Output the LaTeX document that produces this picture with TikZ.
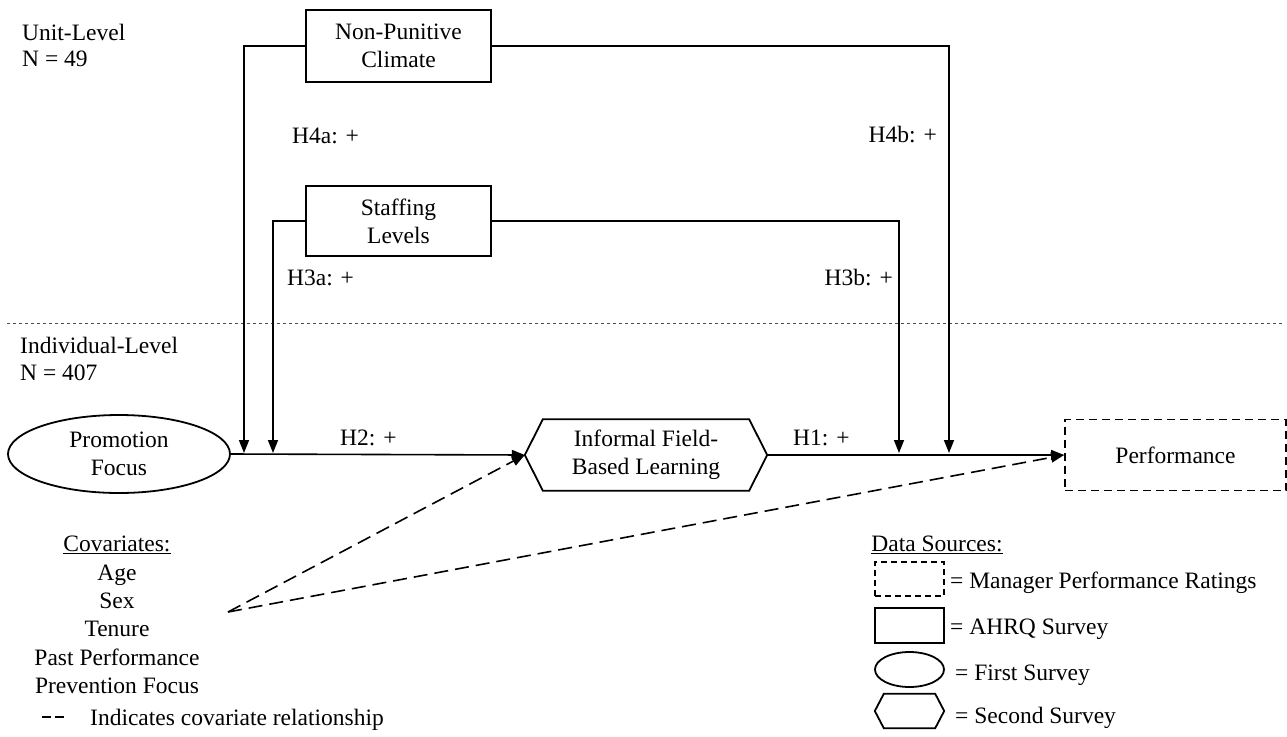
\documentclass[tikz,border=0pt]{standalone}
\usepackage{fontspec}
\setmainfont{Liberation Serif}
\usetikzlibrary{arrows.meta,shapes.geometric,calc}
\tikzset{
  txt/.style={inner sep=0pt, anchor=base},
  txtw/.style={inner sep=0pt, anchor=base west},
  txte/.style={inner sep=0pt, anchor=base east},
  boxnode/.style={draw, line width=1.8pt, minimum width=185pt, minimum height=71pt, align=center, inner sep=0pt},
  ellnode/.style={draw, ellipse, line width=1.8pt, inner sep=0pt, align=center},
  hexnode/.style={draw=none, inner sep=0pt, align=center},
  hexline/.style={line width=1.8pt, line join=miter},
  perfnode/.style={draw, line width=1.8pt, dash pattern=on 8pt off 5pt, inner sep=0pt},
  conn/.style={line width=1.6pt, -{Triangle[length=13pt,width=10pt]}},
  dconn/.style={line width=1.6pt, dash pattern=on 14pt off 7pt, -{Triangle[length=13pt,width=10pt]}},
  levelline/.style={line width=0.8pt, black!70, dash pattern=on 3pt off 3pt},
}
\begin{document}
\begin{tikzpicture}[x=1pt,y=-1pt,font=\fontsize{23.5}{28}\selectfont]
\useasboundingbox (0,0) rectangle (1287,736);

% level labels
\node[txtw] (ul) at (22,40) {Unit-Level};
\node[txtw] (n49) at (22,66) {N = 49};
\coordinate (dl1) at (7,323);
\coordinate (dl2) at (1284,323);
\draw[levelline] (dl1) -- (dl2);
\node[txtw] (il) at (20,353) {Individual-Level};
\node[txtw] (n407) at (20,380) {N = 407};

% main nodes
\node[boxnode, minimum height=72pt] (npc) at (398.5,46) {Non-Punitive\\Climate};
\node[boxnode, minimum height=70pt] (sl) at (398.5,221) {Staffing\\Levels};
\node[ellnode, minimum width=222pt, minimum height=78pt] (pf) at (119,454) {Promotion\\Focus};
\node[hexnode, minimum width=242pt, minimum height=71pt] (ifbl) at (646,455) {Informal Field-\\Based Learning};
\draw[hexline] (ifbl.west) -- ([xshift=18pt]ifbl.north west) -- ([xshift=-18pt]ifbl.north east) -- (ifbl.east) -- ([xshift=-18pt]ifbl.south east) -- ([xshift=18pt]ifbl.south west) -- cycle;
\node[perfnode, minimum width=221pt, minimum height=71pt] (perf) at (1175.5,455) {Performance};

% connectors
\coordinate (a1) at (244,453);
\coordinate (a2) at (273,453);
\coordinate (a3) at (899,453);
\coordinate (a4) at (949,453);
\draw[conn] (pf.east) -- (ifbl.west);
\draw[conn] (ifbl.east) -- (perf.west);
\draw[conn] (npc.west) -| (a1);
\draw[conn] (sl.west) -| (a2);
\draw[conn] (sl.east) -| (a3);
\draw[conn] (npc.east) -| (a4);

\coordinate (cv) at (228,612);
\draw[dconn] (cv) -- (ifbl.west);
\draw[dconn] (cv) -- (perf.west);

% hypothesis labels
\node[txtw] (h4a) at (292,143) {H4a: +};
\node[txtw] (h3a) at (287,285) {H3a: +};
\node[txte] (h4b) at (937,142) {H4b: +};
\node[txte] (h3b) at (893,285) {H3b: +};
\node[txtw] (h2) at (340,445) {H2: +};
\node[txtw] (h1) at (793,445) {H1: +};

% covariates
\node[txt] (cov0) at (117,551) {\underline{Covariates:}};
\node[txt] (cov1) at (117,580) {Age};
\node[txt] (cov2) at (117,608) {Sex};
\node[txt] (cov3) at (117,636) {Tenure};
\node[txt] (cov4) at (117,665) {Past Performance};
\node[txt] (cov5) at (117,693) {Prevention Focus};
\coordinate (ld1) at (42,717);
\coordinate (ld2) at (64,717);
\draw[line width=1.8pt, dash pattern=on 9pt off 4pt] (ld1) -- (ld2);
\node[txtw] (ind) at (90,725) {Indicates covariate relationship};

% data sources legend
\node[txt] (ds) at (937,551) {\underline{Data Sources:}};
\node[perfnode, line width=1.6pt, dash pattern=on 6pt off 4pt, minimum width=69pt, minimum height=34pt] (lg1) at (909.5,579) {};
\node[txtw] (lt1) at (950,588) {= Manager Performance Ratings};
\node[draw, line width=1.8pt, inner sep=0pt, minimum width=69pt, minimum height=35pt] (lg2) at (909.5,625.5) {};
\node[txtw] (lt2) at (950,634) {= AHRQ Survey};
\node[ellnode, minimum width=69pt, minimum height=35pt] (lg3) at (909.5,669.5) {};
\node[txtw] (lt3) at (955,680) {= First Survey};
\node[hexnode, minimum width=69pt, minimum height=34pt] (lg4) at (909.5,711) {};
\draw[hexline] (lg4.west) -- ([xshift=9pt]lg4.north west) -- ([xshift=-9pt]lg4.north east) -- (lg4.east) -- ([xshift=-9pt]lg4.south east) -- ([xshift=9pt]lg4.south west) -- cycle;
\node[txtw] (lt4) at (955,723) {= Second Survey};
\end{tikzpicture}
\end{document}
